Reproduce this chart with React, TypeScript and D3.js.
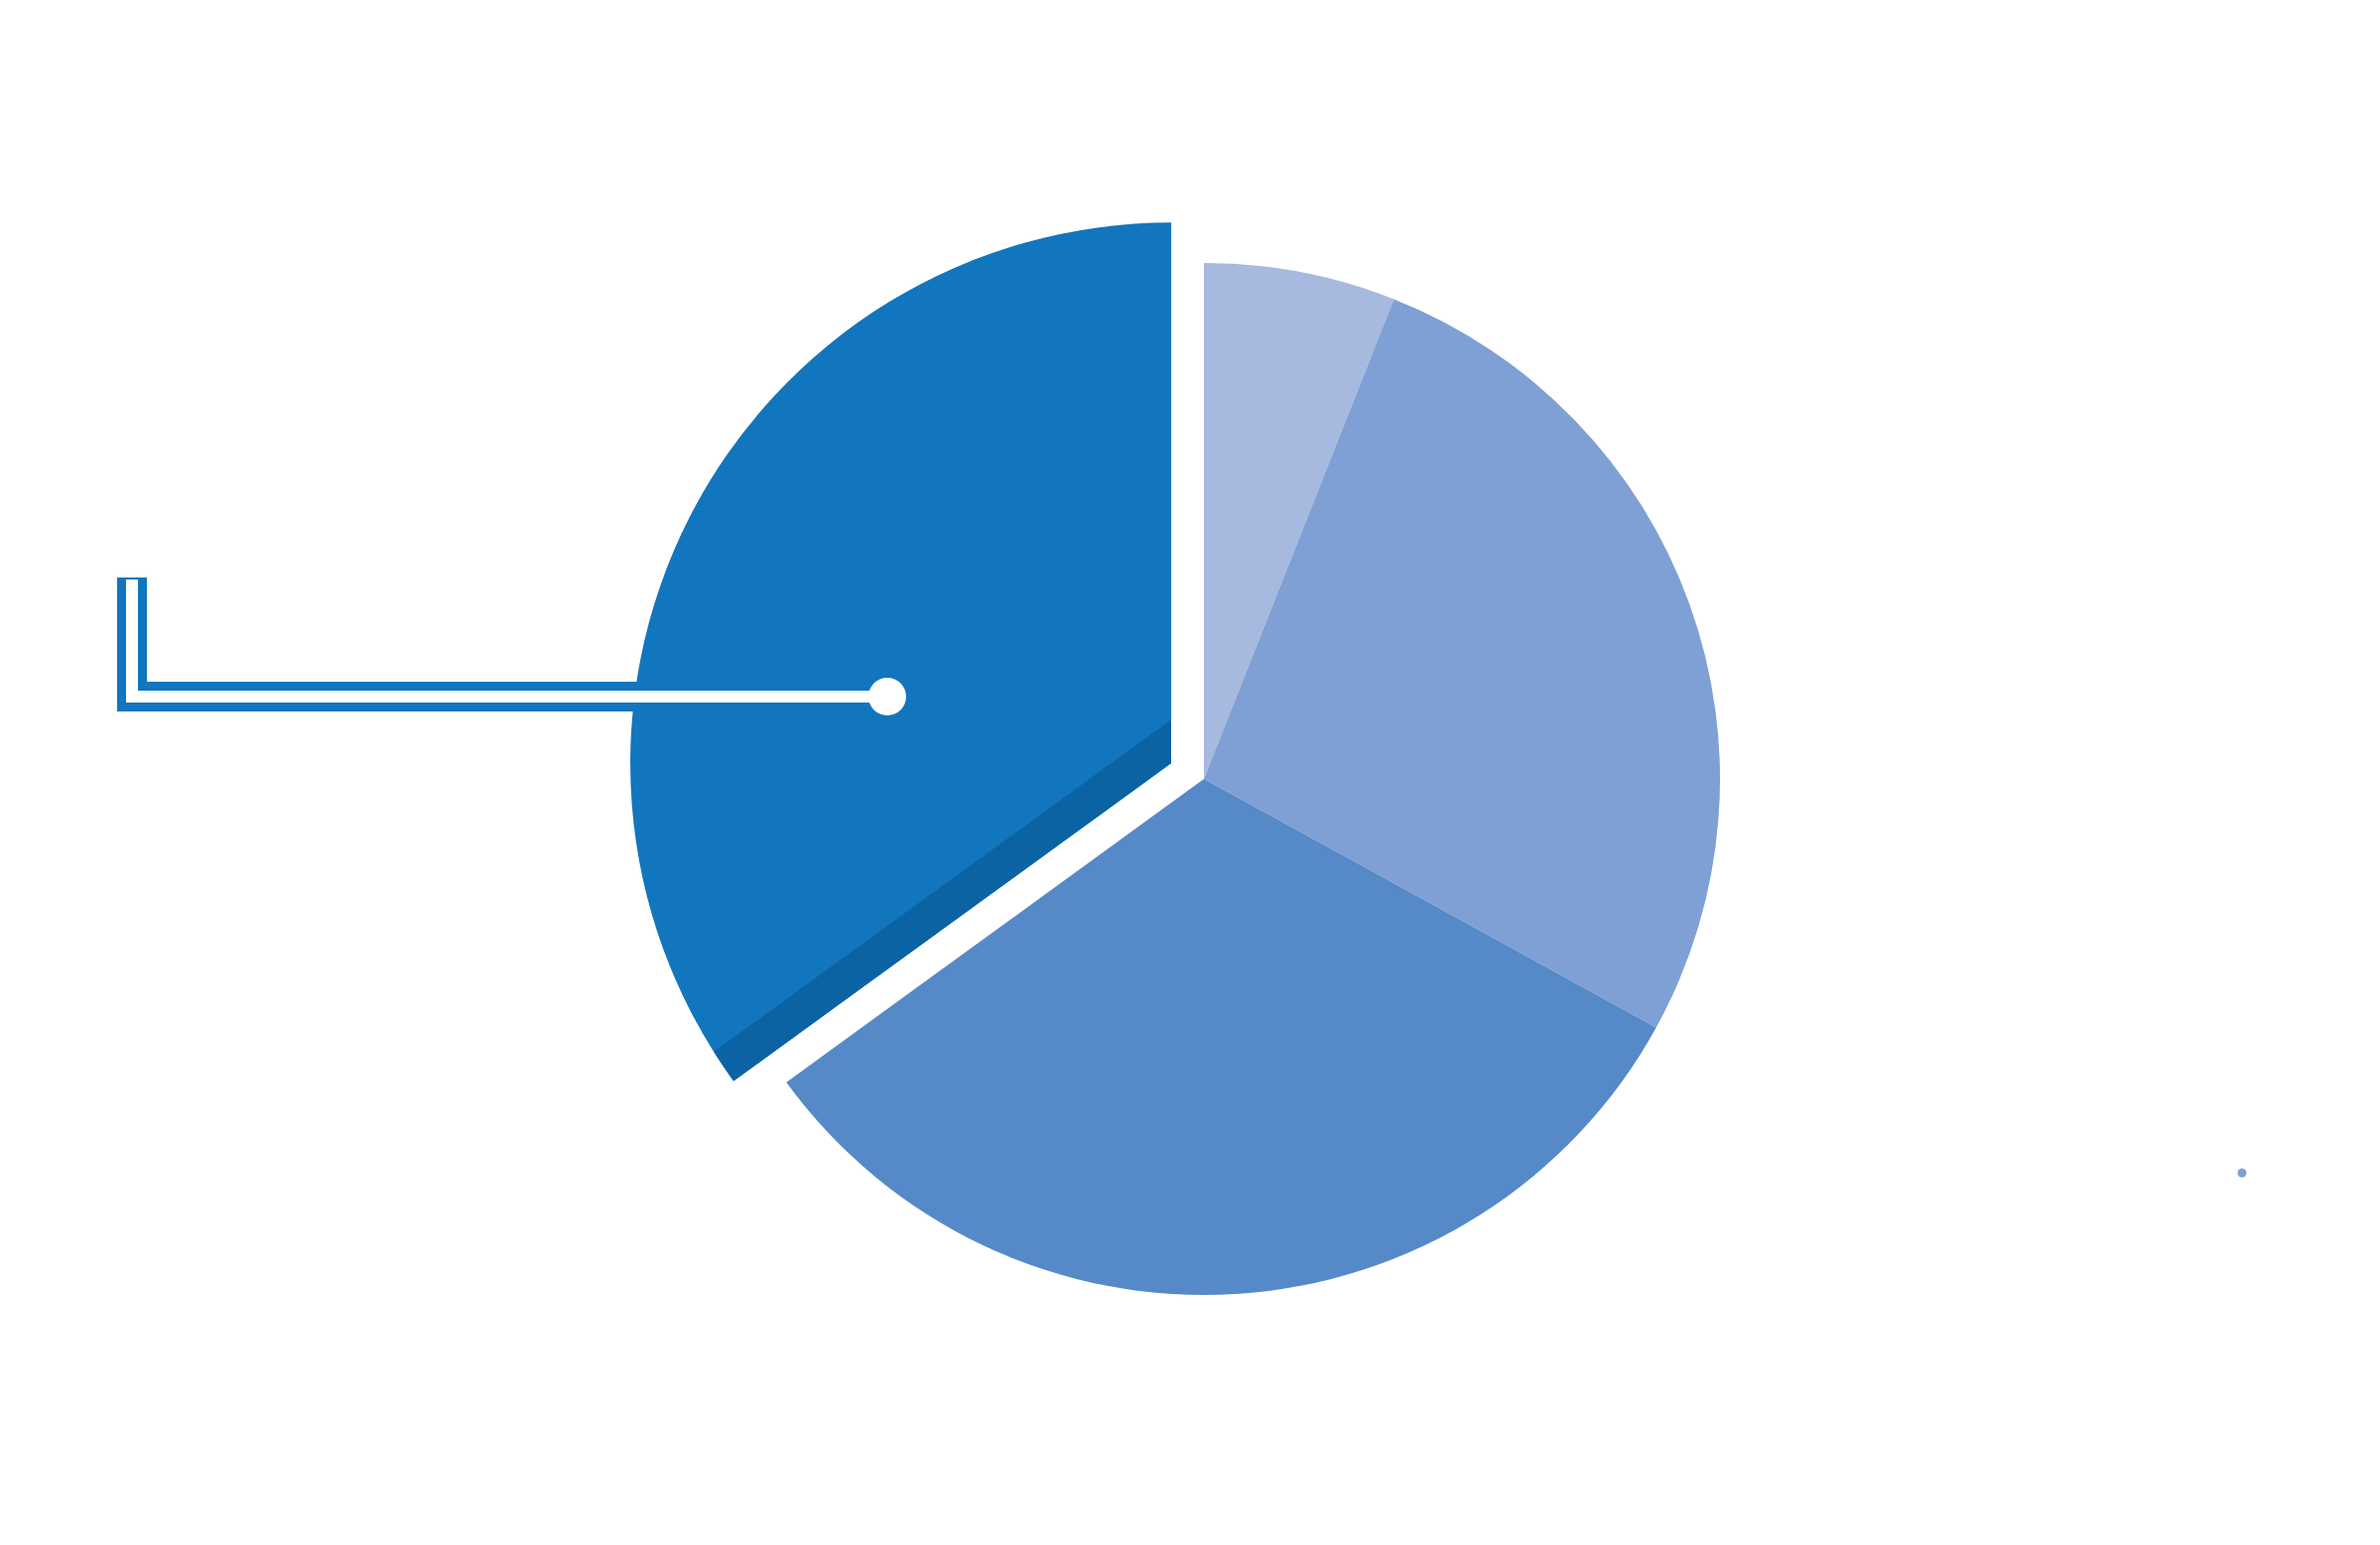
import React from "react";
import * as d3 from "d3";

const categories = ["A", "B", "C", "D"];
const values = [6, 27, 32, 35];
const colors = ["#a7b9df", "#7fa0d4", "#5689c8", "#1176bd"];
const pulledIndex = 3;

const W = 2398;
const H = 1557;
const cx = 1213;
const cy = 785;
const R = 520;
const pullDist = 37;
const pullScale = 1.048;
const bevel = 44;

export default function App() {
  const pie = d3.pie<number>().sort(null).value((d) => d)(values);
  const arc = d3.arc<d3.PieArcDatum<number>>().innerRadius(0).outerRadius(R);
  const arcBig = d3
    .arc<d3.PieArcDatum<number>>()
    .innerRadius(0)
    .outerRadius(R * pullScale);

  const p = pie[pulledIndex];
  const mid = (p.startAngle + p.endAngle) / 2;
  const ox = cx + Math.sin(mid) * pullDist;
  const oy = cy - Math.cos(mid) * pullDist + 1;
  const a0 = p.startAngle;
  const far = R * 1.3;
  const ex = Math.sin(a0) * far;
  const ey = -Math.cos(a0) * far;
  const band = d3.path();
  band.moveTo(0, 0);
  band.lineTo(ex, ey);
  band.lineTo(ex, ey - bevel);
  band.lineTo(0, -bevel);
  band.closePath();

  const dotX = 894;
  const dotY = 702;
  const lineX = 133;
  const lineTop = 582;
  const callout = d3.line()([
    [dotX, dotY],
    [lineX, dotY],
    [lineX, lineTop],
  ]) as string;
  const calloutInner = d3.line()([
    [dotX, dotY],
    [lineX, dotY],
    [lineX, lineTop + 2],
  ]) as string;

  return (
    <svg
      width={W}
      height={H}
      style={{ position: "fixed", left: 0, top: 0, background: "#fff" }}
    >
      <defs>
        <clipPath id="pulledClip">
          <path d={arcBig(p) as string} />
        </clipPath>
      </defs>
      <g transform={`translate(${cx},${cy})`}>
        {pie.map((d, i) =>
          i === pulledIndex ? null : (
            <path key={categories[i]} d={arc(d) as string} fill={colors[i]} />
          )
        )}
      </g>
      <g transform={`translate(${ox},${oy})`}>
        <path d={arcBig(p) as string} fill={colors[pulledIndex]} />
        <path
          d={band.toString()}
          fill="#0c63a3"
          clipPath="url(#pulledClip)"
        />
      </g>
      <path
        d={callout}
        fill="none"
        stroke="#1176bd"
        strokeWidth={30}
        strokeLinejoin="miter"
        strokeLinecap="butt"
      />
      <path
        d={calloutInner}
        fill="none"
        stroke="#ffffff"
        strokeWidth={12}
        strokeLinejoin="miter"
        strokeLinecap="butt"
      />
      <circle cx={dotX} cy={dotY} r={19} fill="#ffffff" />
      <circle cx={2259} cy={1182} r={4.5} fill="#7b9fd6" />
    </svg>
  );
}
